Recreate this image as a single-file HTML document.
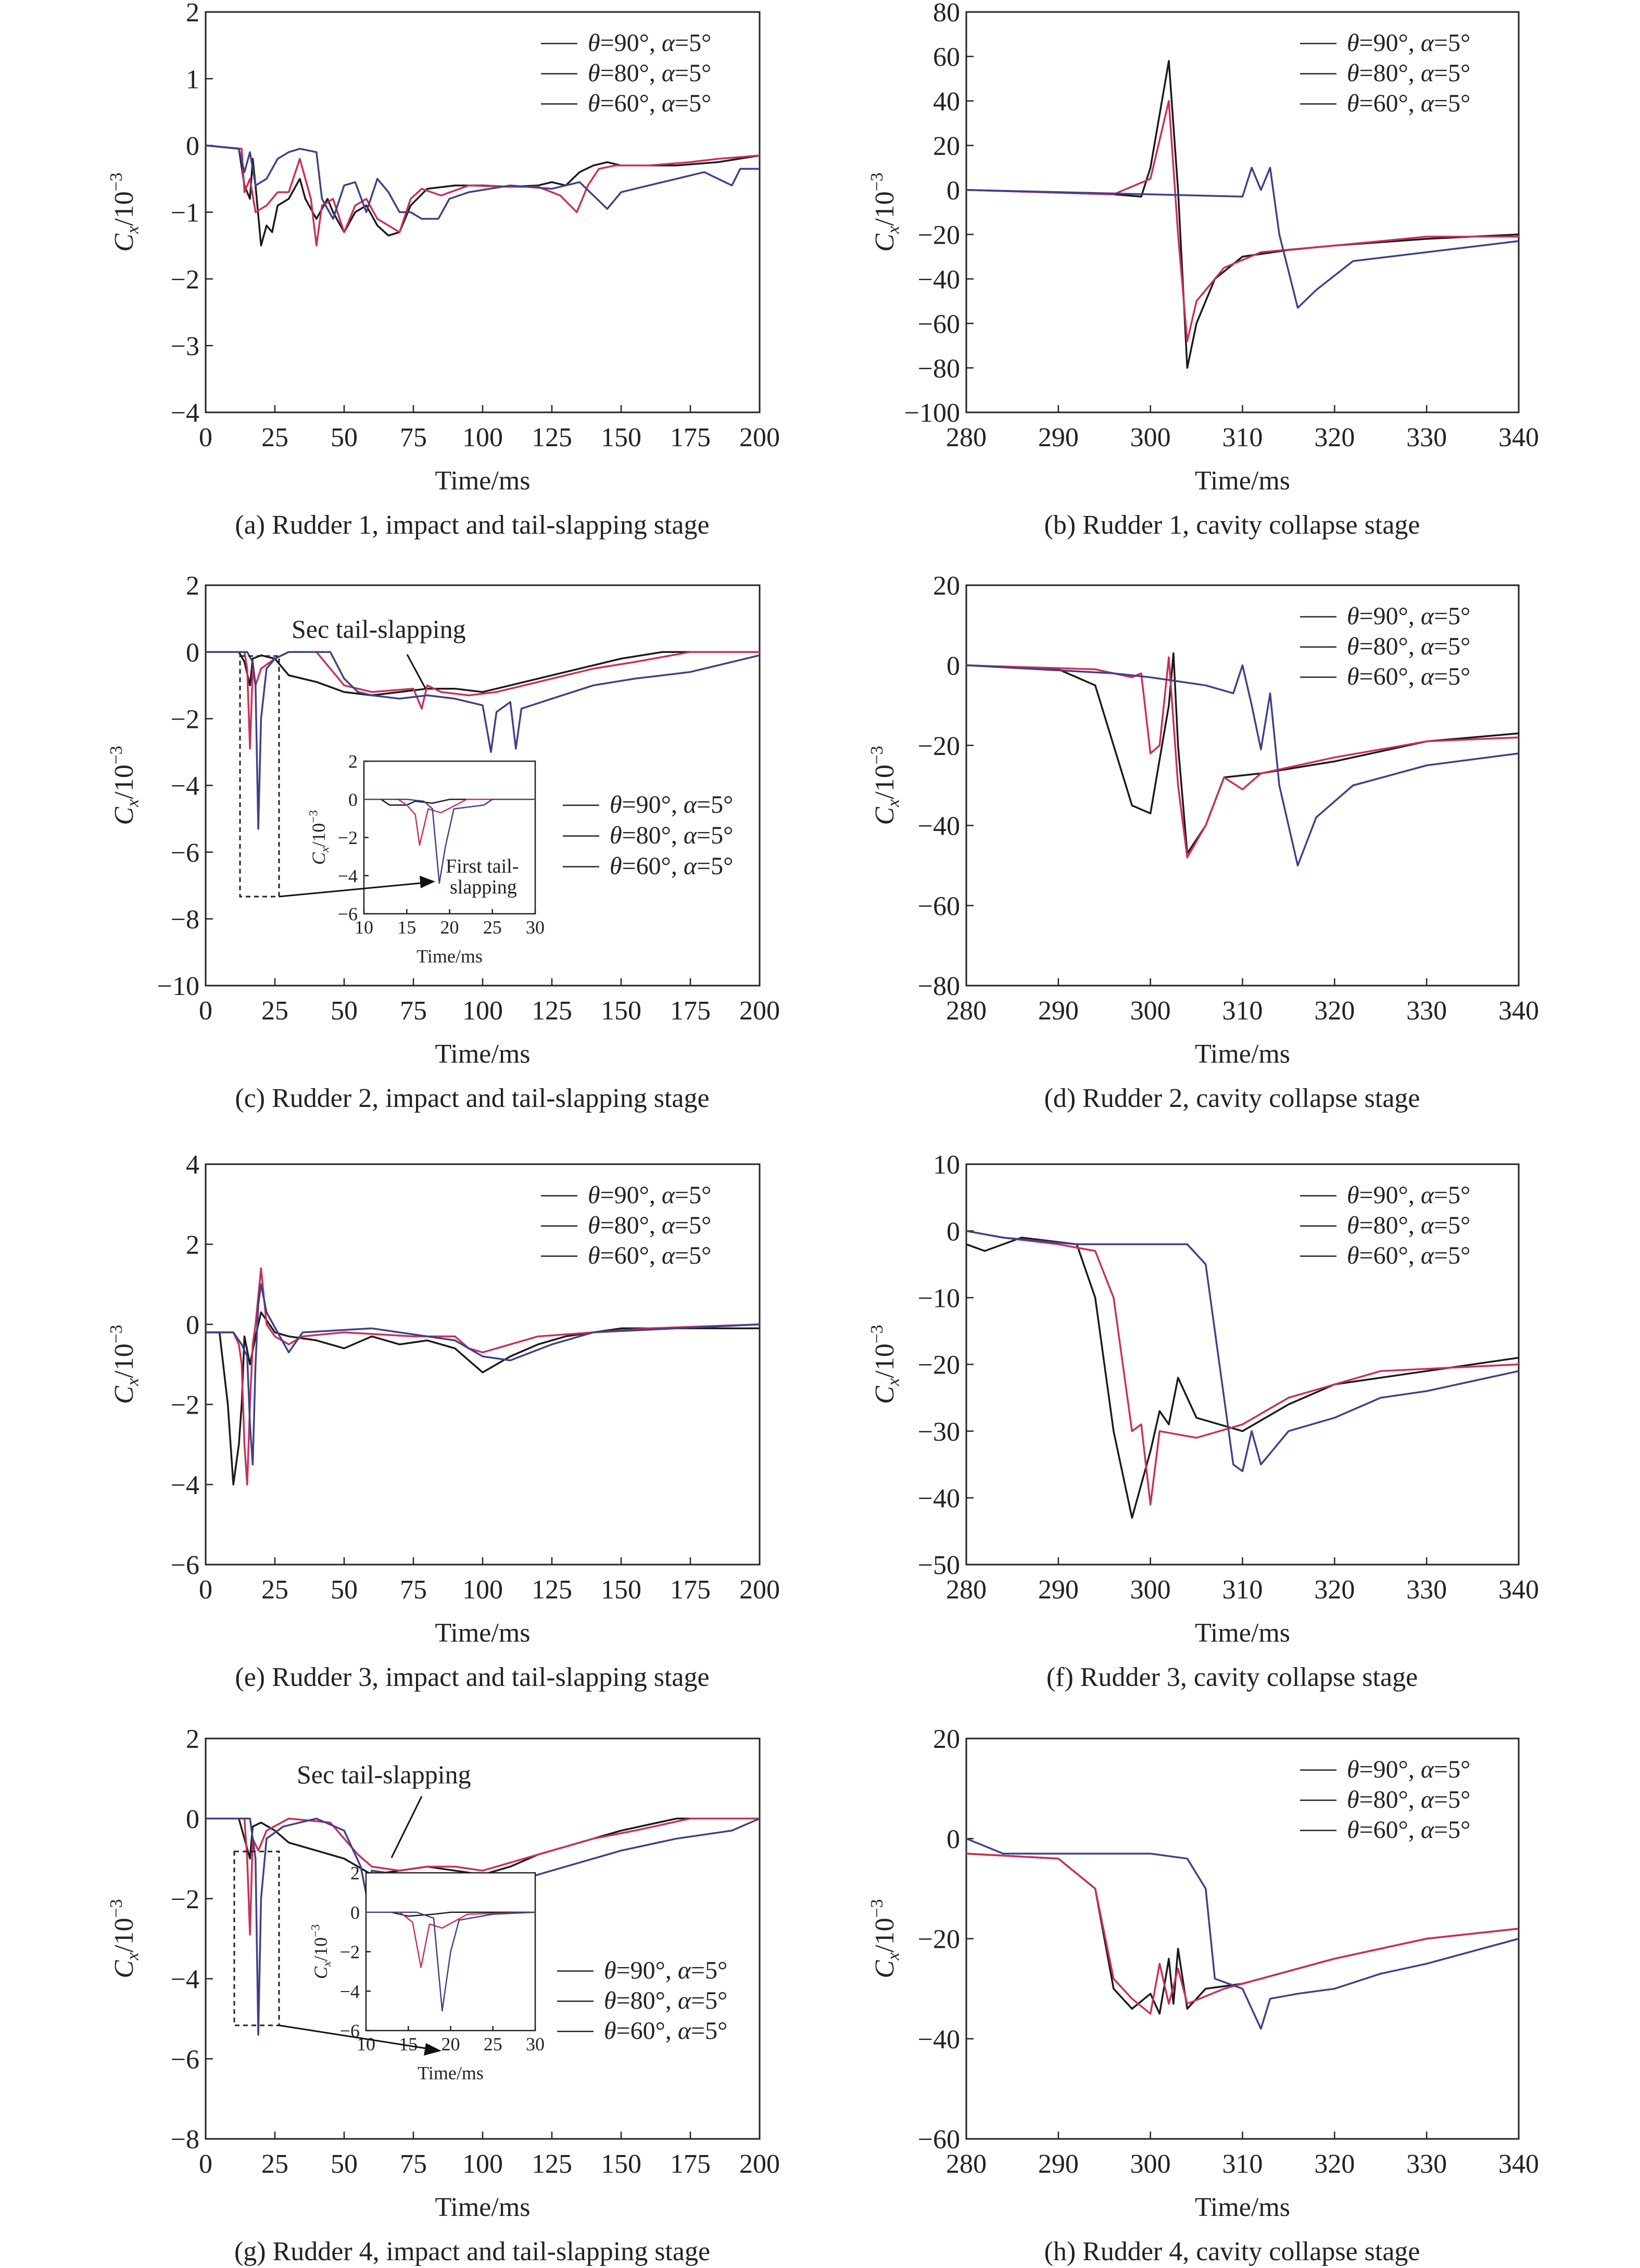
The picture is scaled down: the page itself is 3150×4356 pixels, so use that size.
<!DOCTYPE html>
<html><head><meta charset="utf-8"><style>
html,body{margin:0;padding:0;background:#fff;}
svg{display:block;font-family:"Liberation Serif",serif;}
</style></head><body>
<svg id="fig" width="3150" height="4356" viewBox="0 0 3150 4356" xmlns="http://www.w3.org/2000/svg">
<rect x="0" y="0" width="3150" height="4356" fill="#fff"/>
</svg>
<script>
// ---- data (time ms, Cx x10^-3) ----
const aT90=[[0,0],[12,-0.05],[14,-0.6],[16,-0.8],[17,-0.2],[18,-0.6],[20,-1.5],[22,-1.2],[24,-1.3],[26,-0.9],[30,-0.8],[34,-0.5],[36,-0.8],[40,-1.1],[44,-0.8],[46,-1.0],[50,-1.3],[54,-1.0],[58,-0.9],[62,-1.2],[66,-1.35],[70,-1.3],[74,-0.9],[80,-0.65],[90,-0.6],[100,-0.6],[110,-0.62],[120,-0.6],[125,-0.55],[130,-0.6],[135,-0.4],[140,-0.3],[145,-0.25],[150,-0.3],[170,-0.3],[185,-0.25],[200,-0.15]];
const aT80=[[0,0],[13,-0.05],[14,-0.7],[16,-0.5],[18,-1.0],[22,-0.9],[26,-0.7],[30,-0.7],[34,-0.2],[36,-0.5],[38,-0.8],[40,-1.5],[42,-0.9],[46,-0.8],[50,-1.3],[54,-0.9],[58,-0.8],[62,-1.1],[66,-1.2],[70,-1.3],[74,-0.8],[78,-0.65],[85,-0.75],[95,-0.6],[110,-0.62],[120,-0.62],[128,-0.75],[134,-1.0],[138,-0.6],[142,-0.35],[148,-0.3],[160,-0.3],[175,-0.25],[185,-0.2],[200,-0.15]];
const aT60=[[0,0],[12,-0.05],[14,-0.4],[16,-0.1],[18,-0.6],[22,-0.5],[26,-0.2],[30,-0.1],[34,-0.05],[40,-0.1],[42,-0.8],[46,-1.1],[50,-0.6],[54,-0.55],[58,-1.0],[62,-0.5],[66,-0.7],[70,-1.0],[74,-1.0],[78,-1.1],[84,-1.1],[88,-0.8],[95,-0.7],[110,-0.6],[125,-0.65],[135,-0.55],[140,-0.75],[145,-0.95],[150,-0.7],[160,-0.6],[170,-0.5],[180,-0.4],[190,-0.6],[193,-0.35],[200,-0.35]];
const bT90=[[280,0],[296,-2],[299,-3],[300,10],[302,58],[303,0],[304,-80],[305,-60],[307,-40],[310,-30],[315,-27],[320,-25],[330,-22],[340,-20]];
const bT80=[[280,0],[296,-2],[300,5],[302,40],[303,-20],[304,-68],[305,-50],[308,-35],[312,-28],[320,-25],[330,-21],[340,-21]];
const bT60=[[280,0],[300,-2],[310,-3],[311,10],[312,0],[313,10],[314,-20],[316,-53],[318,-45],[322,-32],[330,-28],[340,-23]];
const cT90=[[0,0],[12,0],[14,-0.3],[16,-1],[17,-0.2],[20,-0.1],[25,-0.2],[30,-0.7],[40,-0.9],[50,-1.2],[60,-1.3],[70,-1.2],[80,-1.1],[90,-1.1],[100,-1.2],[110,-1.0],[120,-0.8],[130,-0.6],[140,-0.4],[150,-0.2],[165,0],[200,0]];
const cT80=[[0,0],[14,0],[15,-0.5],[16,-2.9],[17,-0.5],[18,-1.0],[20,-0.5],[25,-0.2],[30,0],[40,0],[45,-0.5],[50,-1],[55,-1.1],[60,-1.2],[75,-1.1],[78,-1.7],[80,-1],[85,-1.2],[95,-1.3],[105,-1.2],[115,-1.0],[125,-0.8],[140,-0.5],[155,-0.3],[175,0],[200,0]];
const cT60=[[0,0],[15,0],[17,-0.3],[18,-1],[19,-5.3],[20,-2],[22,-0.5],[25,-0.2],[30,0],[45,0],[50,-0.8],[55,-1.2],[60,-1.3],[70,-1.4],[80,-1.3],[90,-1.4],[100,-1.6],[103,-3],[105,-1.8],[110,-1.5],[112,-2.9],[114,-1.7],[125,-1.4],[140,-1.0],[155,-0.8],[175,-0.6],[190,-0.3],[200,-0.1]];
const ciT90=[[10,0],[12,0],[13,-0.3],[15,-0.3],[16,-0.1],[18,-0.2],[20,0],[30,0]];
const ciT80=[[10,0],[14,0],[15,-0.3],[16,-0.8],[16.5,-2.4],[17.5,-0.5],[19,-0.7],[22,0],[30,0]];
const ciT60=[[10,0],[15,0],[17,-0.1],[18,-0.5],[18.8,-4.4],[19.5,-2.5],[20.5,-0.5],[24,-0.3],[25,0],[30,0]];
const dT90=[[280,0],[290,-1],[294,-5],[296,-20],[298,-35],[300,-37],[302,-10],[302.5,3],[303,-20],[304,-47],[306,-40],[308,-28],[312,-27],[320,-24],[330,-19],[340,-17]];
const dT80=[[280,0],[294,-1],[298,-3],[299,-2],[300,-22],[301,-20],[302,2],[303,-30],[304,-48],[306,-40],[308,-28],[310,-31],[312,-27],[320,-23],[330,-19],[340,-18]];
const dT60=[[280,0],[296,-2],[300,-3],[306,-5],[309,-7],[310,0],[311,-10],[312,-21],[313,-7],[314,-30],[316,-50],[318,-38],[322,-30],[330,-25],[340,-22]];
const eT90=[[0,-0.2],[5,-0.2],[8,-2],[10,-4],[12,-3],[13,-2],[14,-0.3],[16,-1],[18,-0.3],[20,0.3],[25,-0.2],[30,-0.3],[40,-0.4],[50,-0.6],[60,-0.3],[70,-0.5],[80,-0.4],[90,-0.6],[100,-1.2],[110,-0.8],[120,-0.5],[130,-0.3],[150,-0.1],[200,-0.1]];
const eT80=[[0,-0.2],[10,-0.2],[12,-0.5],[13,-1],[14,-3],[15,-4],[16,-2],[17,-0.5],[18,0],[20,1.4],[22,0],[25,-0.3],[30,-0.5],[35,-0.3],[50,-0.2],[75,-0.3],[90,-0.3],[95,-0.6],[100,-0.7],[110,-0.5],[120,-0.3],[140,-0.2],[160,-0.1],[200,0]];
const eT60=[[0,-0.2],[10,-0.2],[13,-0.5],[15,-0.8],[16,-2.5],[17,-3.5],[18,-1.0],[19,0.5],[20,1.0],[22,0.3],[26,-0.2],[30,-0.7],[35,-0.2],[60,-0.1],[90,-0.4],[100,-0.8],[110,-0.9],[125,-0.5],[140,-0.2],[170,-0.1],[200,0]];
const fT90=[[280,-2],[282,-3],[286,-1],[292,-2],[294,-10],[296,-30],[298,-43],[300,-33],[301,-27],[302,-29],[303,-22],[305,-28],[310,-30],[315,-26],[320,-23],[330,-21],[340,-19]];
const fT80=[[280,0],[284,-1],[290,-2],[294,-3],[296,-10],[298,-30],[299,-29],[300,-41],[301,-30],[305,-31],[310,-29],[315,-25],[325,-21],[340,-20]];
const fT60=[[280,0],[284,-1],[292,-2],[296,-2],[304,-2],[306,-5],[308,-25],[309,-35],[310,-36],[311,-30],[312,-35],[315,-30],[320,-28],[325,-25],[330,-24],[340,-21]];
const gT90=[[0,0],[12,0],[14,-0.5],[16,-1],[17,-0.2],[20,-0.1],[25,-0.3],[30,-0.6],[40,-0.8],[50,-1.0],[55,-1.2],[60,-1.4],[70,-1.3],[80,-1.2],[90,-1.3],[100,-1.4],[110,-1.2],[120,-0.9],[135,-0.6],[150,-0.3],[170,0],[200,0]];
const gT80=[[0,0],[14,0],[15,-1],[16,-2.9],[17,-0.5],[19,-0.8],[22,-0.3],[30,0],[45,-0.1],[50,-0.5],[55,-0.9],[60,-1.2],[70,-1.3],[80,-1.2],[90,-1.2],[100,-1.3],[110,-1.1],[125,-0.8],[140,-0.5],[155,-0.3],[175,0],[200,0]];
const gT60=[[0,0],[16,0],[18,-1],[19,-5.4],[20,-2],[22,-0.5],[28,-0.2],[40,0],[50,-0.3],[56,-1.2],[58,-1.9],[60,-1.3],[70,-1.4],[85,-1.5],[100,-1.6],[115,-1.5],[130,-1.2],[150,-0.8],[170,-0.5],[190,-0.3],[200,0]];
const giT90=[[10,0],[13,0],[15,-0.2],[18,-0.1],[20,0],[30,0]];
const giT80=[[10,0],[14,0],[15.5,-0.5],[16.5,-2.8],[17.5,-0.6],[19,-0.8],[22,-0.1],[30,0]];
const giT60=[[10,0],[16,0],[18,-0.3],[19,-5],[20,-2],[21,-0.4],[25,-0.1],[30,0]];
const leftXTicks=[0,25,50,75,100,125,150,175,200];
const rightXTicks=[280,290,300,310,320,330,340];
const insetXTicks=[10,15,20,25,30];
const aYTicks=[2,1,0,-1,-2,-3,-4];
const bYTicks=[80,60,40,20,0,-20,-40,-60,-80,-100];
const cYTicks=[2,0,-2,-4,-6,-8,-10];
const dYTicks=[20,0,-20,-40,-60,-80];
const eYTicks=[4,2,0,-2,-4,-6];
const fYTicks=[10,0,-10,-20,-30,-40,-50];
const gYTicks=[2,0,-2,-4,-6,-8];
const hYTicks=[20,0,-20,-40,-60];
const insetYTicks=[2,0,-2,-4,-6];
const hT90=[[280,-3],[290,-4],[294,-10],[296,-30],[298,-34],[300,-31],[301,-35],[302,-24],[302.5,-33],[303,-22],[304,-34],[306,-30],[310,-29],[314,-27],[320,-24],[330,-20],[340,-18]];
const hT80=[[280,-3],[290,-4],[294,-10],[296,-28],[298,-32],[300,-35],[301,-25],[302,-33],[303,-26],[304,-33],[308,-30],[312,-28],[320,-24],[330,-20],[340,-18]];
const hT60=[[280,0],[284,-3],[300,-3],[304,-4],[306,-10],[307,-28],[310,-30],[312,-38],[313,-32],[316,-31],[320,-30],[325,-27],[330,-25],[340,-20]];
const captions=["(a) Rudder 1, impact and tail-slapping stage","(b) Rudder 1, cavity collapse stage","(c) Rudder 2, impact and tail-slapping stage","(d) Rudder 2, cavity collapse stage","(e) Rudder 3, impact and tail-slapping stage","(f) Rudder 3, cavity collapse stage","(g) Rudder 4, impact and tail-slapping stage","(h) Rudder 4, cavity collapse stage"];
const legendLabels=["90","80","60"];

const NS="http://www.w3.org/2000/svg";
const svg=document.getElementById('fig');
const COLORS=["#1a1a1a","#c8305a","#40408a"];
function mk(tag,attrs,parent){const e=document.createElementNS(NS,tag);for(const k in attrs)e.setAttribute(k,attrs[k]);(parent||svg).appendChild(e);return e;}

function panel(key,L,R,T,B,xmin,xmax,ymin,ymax,xt,yt,series,opt){
  opt=opt||{};
  const fs=opt.fs||52;
  const g=mk('g',{});
  
  
  const sx=v=>L+(v-xmin)/(xmax-xmin)*(R-L);
  const sy=v=>T+(ymax-v)/(ymax-ymin)*(B-T);
  const box=mk('rect',{x:L,y:T,width:R-L,height:B-T,fill:'#fff',stroke:'#222','stroke-width':opt.sw||3},g);
  
  
  const tl=opt.tl||14;
  xt.forEach(v=>{
    mk('line',{x1:sx(v),x2:sx(v),y1:B,y2:B-tl,stroke:'#222','stroke-width':2.5},g);
    const t=mk('text',{x:sx(v),y:B+fs*(opt.xtickOff||1.25),'text-anchor':'middle','font-size':fs,fill:'#222'},g);
    t.textContent=v;
    
    
  });
  yt.forEach(v=>{
    mk('line',{x1:L,x2:L+tl,y1:sy(v),y2:sy(v),stroke:'#222','stroke-width':2.5},g);
    const t=mk('text',{x:L-12,y:sy(v)+fs*0.35,'text-anchor':'end','font-size':fs,fill:'#222'},g);
    t.textContent=(v<0?'\u2212'+(-v):v);
    
    
  });
  series.forEach((s,i)=>{
    const d=s.map((p,j)=>(j?'L':'M')+sx(p[0]).toFixed(1)+' '+sy(p[1]).toFixed(1)).join(' ');
    const p=mk('path',{d:d,fill:'none',stroke:COLORS[i],'stroke-width':opt.lw||3.5,'stroke-linejoin':'round'},g);
    
    
  });
  const xl=mk('text',{x:(L+R)/2,y:B+fs*(opt.xtitleOff||2.85),'text-anchor':'middle','font-size':fs,fill:'#222'},g);
  xl.textContent='Time/ms';
  
  
  const yx=L-(opt.ytitleOff||140), yy=(T+B)/2;
  const yl=mk('text',{x:yx,y:yy,'text-anchor':'middle','font-size':fs,fill:'#222',transform:`rotate(-90 ${yx} ${yy})`},g);
  yl.innerHTML='<tspan font-style="italic">C</tspan><tspan font-style="italic" font-size="'+(fs*0.65)+'" dy="'+(fs*0.2)+'">x</tspan><tspan dy="'+(-fs*0.2)+'">/10</tspan><tspan font-size="'+(fs*0.65)+'" dy="'+(-fs*0.4)+'">\u22123</tspan>';
  
  
  return {sx,sy,g};
}

function legend(x,y0,dy,fs){
  const g=mk('g',{});
  
  
  legendLabels.forEach((lab,i)=>{
    const y=y0+i*dy;
    mk('line',{x1:x,x2:x+70,y1:y-fs*0.3,y2:y-fs*0.3,stroke:'#222','stroke-width':2.5},g);
    const t=mk('text',{x:x+90,y:y,'font-size':fs,fill:'#222'},g);
    t.innerHTML='<tspan font-style="italic">\u03b8</tspan>='+lab+'\u00b0, <tspan font-style="italic">\u03b1</tspan>=5\u00b0';
    
    
  });
}

function caption(txt,x,y){
  const t=mk('text',{x:x,y:y,'text-anchor':'middle','font-size':52,fill:'#222'});
  t.textContent=txt;
  
  
}

const LX=[395,1459], RX=[1856,2917];
const rows=[23,1124,2236,3339]; const H=769;
const leftY=[[-4,2,aYTicks],[-10,2,cYTicks],[-6,4,eYTicks],[-8,2,gYTicks]];
const rightY=[[-100,80,bYTicks],[-80,20,dYTicks],[-50,10,fYTicks],[-60,20,hYTicks]];
const leftS=[[aT90,aT80,aT60],[cT90,cT80,cT60],[eT90,eT80,eT60],[gT90,gT80,gT60]];
const rightS=[[bT90,bT80,bT60],[dT90,dT80,dT60],[fT90,fT80,fT60],[hT90,hT80,hT60]];
const keys=['a','b','c','d','e','f','g','h'];
rows.forEach((T,r)=>{
  const B=T+H;
  panel(keys[2*r],LX[0],LX[1],T,B,0,200,leftY[r][0],leftY[r][1],leftXTicks,leftY[r][2],leftS[r],{});
  panel(keys[2*r+1],RX[0],RX[1],T,B,280,340,rightY[r][0],rightY[r][1],rightXTicks,rightY[r][2],rightS[r],{});
  caption(captions[2*r],(LX[0]+LX[1])/2-20,T+1002);
  caption(captions[2*r+1],(RX[0]+RX[1])/2-20,T+1002);
  legend(RX[1]-420,T+75,58,48);
  if(r===0||r===2) legend(LX[1]-420,T+75,58,48);
});
(function(){
  legend(1081,1561,59,48);
  panel('c-inset',699,1028,1462,1755,10,30,-6,2,insetXTicks,insetYTicks,[ciT90,ciT80,ciT60],{fs:36,tl:9,sw:2.5,lw:2.5,xtickOff:1.05,xtitleOff:2.6,ytitleOff:75});
  const r=mk('rect',{x:461,y:1260,width:75,height:462,fill:'none',stroke:'#222','stroke-width':3,'stroke-dasharray':'9 7'});
  
  const a=mk('line',{x1:536,y1:1722,x2:820,y2:1695,stroke:'#111','stroke-width':3});
  
  mk('polygon',{points:'836,1693 806,1682 808,1706',fill:'#111'});
  const t1=mk('text',{x:560,y:1225,'font-size':50,fill:'#222'});t1.textContent='Sec tail-slapping';
  
  mk('line',{x1:782,y1:1257,x2:817,y2:1322,stroke:'#111','stroke-width':3});
  const t2=mk('text',{x:856,y:1676,'font-size':38,fill:'#222'});t2.textContent='First tail-';
  
  const t3=mk('text',{x:864,y:1716,'font-size':38,fill:'#222'});t3.textContent='slapping';
  
})();
(function(){
  legend(1070,3800,58,48);
  panel('g-inset',703,1028,3597,3900,10,30,-6,2,insetXTicks,insetYTicks,[giT90,giT80,giT60],{fs:36,tl:9,sw:2.5,lw:2.5,xtickOff:1.05,xtitleOff:2.6,ytitleOff:75});
  const r=mk('rect',{x:450,y:3556,width:86,height:334,fill:'none',stroke:'#222','stroke-width':3,'stroke-dasharray':'9 7'});
  
  const a=mk('line',{x1:536,y1:3890,x2:830,y2:3936,stroke:'#111','stroke-width':3});
  
  mk('polygon',{points:'848,3939 818,3924 814,3948',fill:'#111'});
  const t1=mk('text',{x:570,y:3425,'font-size':50,fill:'#222'});t1.textContent='Sec tail-slapping';
  
  mk('line',{x1:810,y1:3450,x2:752,y2:3568,stroke:'#111','stroke-width':3});
})();
</script>
</body></html>
